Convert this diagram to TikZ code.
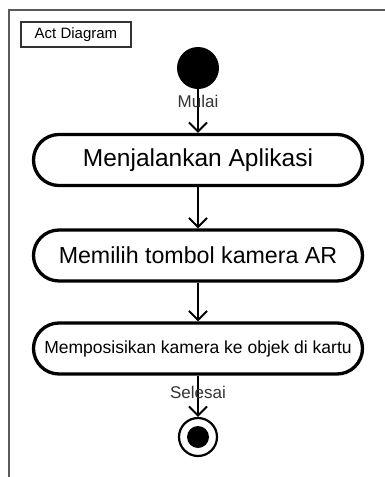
\documentclass[tikz,border=0pt]{standalone}
\usepackage{fontspec}
\setsansfont{Liberation Sans}
\definecolor{framegray}{HTML}{5A5A5A}
\definecolor{lblgray}{HTML}{333333}
\usetikzlibrary{arrows.meta, positioning}
\tikzset{
  act/.style={
    draw=black, line width=3.3pt, rounded corners=25.5pt,
    minimum width=329pt, minimum height=51pt, inner sep=0pt,
    font=\sffamily\fontsize{#1}{#1}\selectfont, text=black, align=center
  },
  act/.default=23,
  startdot/.style={circle, fill=black, minimum size=42pt, inner sep=0pt},
  enddot/.style={circle, draw=black, line width=2.2pt, minimum size=38pt, inner sep=0pt},
  enddotcore/.style={circle, fill=black, minimum size=22pt, inner sep=0pt},
  tag/.style={
    draw=black!80, line width=1.5pt, minimum width=110pt, minimum height=25pt,
    inner sep=0pt, font=\sffamily\fontsize{15}{15}\selectfont
  },
  arr/.style={-{Straight Barb[length=9pt,width=18pt]}, line width=2pt},
  lbl/.style={font=\sffamily\fontsize{17}{17}\selectfont, text=lblgray, inner sep=0pt},
}
\begin{document}
\begin{tikzpicture}[x=1pt, y=-1pt]
    \useasboundingbox (0,0) rectangle (385,477);
    \draw[framegray, line width=2pt] (385,10) -- (9,10) -- (9,477);

    \node[tag] (title) at (76,34.5) {Act Diagram};

    \node[startdot] (start) at (198,68) {};

    \node[act=24.5] (run) at (198,160) {Menjalankan Aplikasi};

    \node[act=23.2] (pick) at (198,255.5) {Memilih tombol kamera AR};

    \node[act=17.5] (aim) at (198,348.5) {Memposisikan kamera ke objek di kartu};

    \node[enddot] (stop) at (198,437) {};
    \node[enddotcore] (stopcore) at (stop) {};

    \draw[arr] (start) -- node[lbl, pos=0.27] {Mulai} (run);
    \draw[arr] (run) -- (pick);
    \draw[arr] (pick) -- (aim);
    \draw[arr] (aim) -- node[lbl, pos=0.4] {Selesai} (stop);
  \end{tikzpicture}
\end{document}
